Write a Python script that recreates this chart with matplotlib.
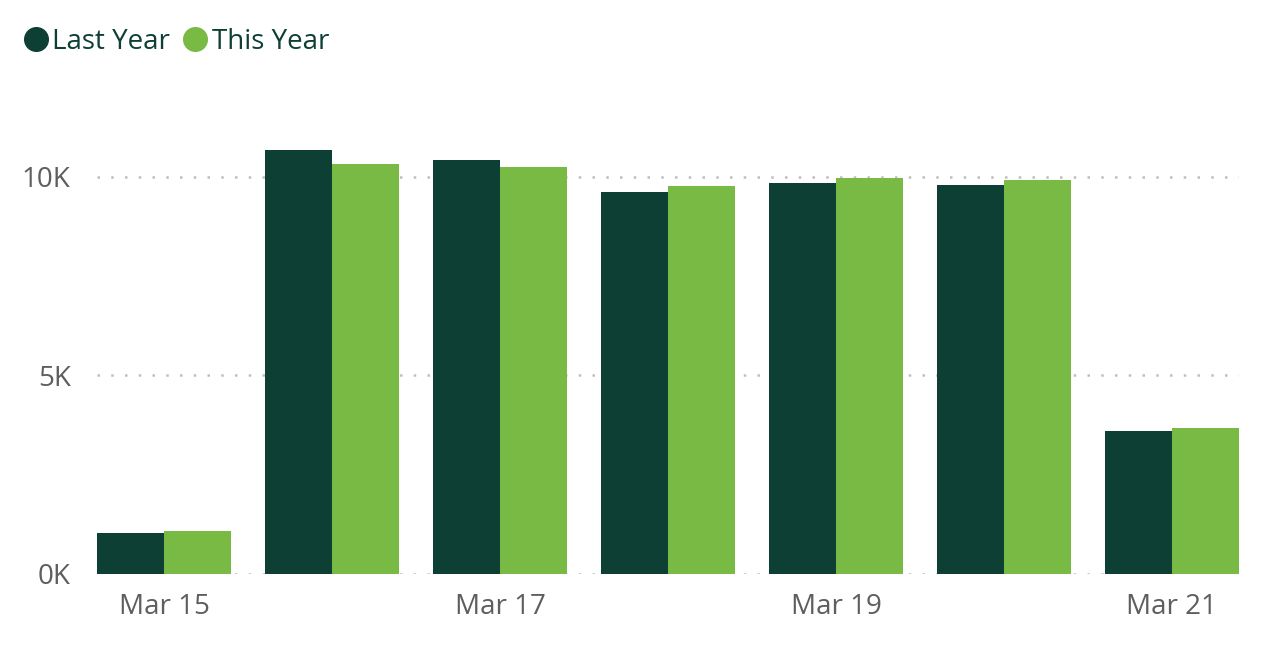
import matplotlib
matplotlib.use("Agg")
import matplotlib.pyplot as plt
from matplotlib.lines import Line2D
import numpy as np

# ---- data ----
dates = ["Mar 15", "Mar 16", "Mar 17", "Mar 18", "Mar 19", "Mar 20", "Mar 21"]
last_year = [1030, 10680, 10430, 9620, 9850, 9800, 3600]
this_year = [1080, 10330, 10250, 9770, 9970, 9920, 3680]
series_names = ["Last Year", "This Year"]
ytick_values = [0, 5000, 10000]
ytick_labels = ["0K", "5K", "10K"]
xtick_idx = [0, 2, 4, 6]

# ---- style ----
c_ly = "#0E3F35"
c_ty = "#79BA44"
c_tick = "#605E5C"
c_grid = "#C0BEBC"
font = ["Open Sans", "DejaVu Sans"]
plt.rcParams["font.family"] = font

fig = plt.figure(figsize=(12.8, 6.59), dpi=100)
ymax = 11500
bottom_px, per_k = 574, 39.73
top_px = bottom_px - ymax / 1000 * per_k
ax = fig.add_axes([97 / 1280, 1 - bottom_px / 659, (1239 - 97) / 1280,
                   (bottom_px - top_px) / 659])

x = np.arange(len(dates))
w = 0.4
ax.bar(x - w / 2, last_year, width=w, color=c_ly, linewidth=0, zorder=3)
ax.bar(x + w / 2, this_year, width=w, color=c_ty, linewidth=0, zorder=3)

ax.set_xlim(-0.4, len(dates) - 0.6)
ax.set_ylim(0, ymax)
ax.set_yticks(ytick_values)
ax.set_yticklabels(ytick_labels)
ax.set_xticks(xtick_idx)
ax.set_xticklabels([dates[i] for i in xtick_idx])
ax.tick_params(axis="both", length=0, labelsize=20, colors=c_tick)
ax.tick_params(axis="y", pad=19)
ax.tick_params(axis="x", pad=14)
for s in ax.spines.values():
    s.set_visible(False)
ax.yaxis.grid(True, color=c_grid, linestyle=(0, (1, 4.5)), linewidth=1.8, zorder=0)
ax.set_axisbelow(True)

handles = [Line2D([], [], marker="o", linestyle="", markersize=17,
                  markerfacecolor=c, markeredgecolor=c) for c in (c_ly, c_ty)]
leg = fig.legend(handles, series_names, loc="center left",
                 bbox_to_anchor=(8 / 1280, 1 - 42 / 659), ncol=2, frameon=False,
                 fontsize=20, handletextpad=0.0, columnspacing=0.3,
                 handlelength=1.2, borderaxespad=0)
for t in leg.get_texts():
    t.set_color(c_ly)

fig.savefig("out.png", dpi=100, facecolor="white")
